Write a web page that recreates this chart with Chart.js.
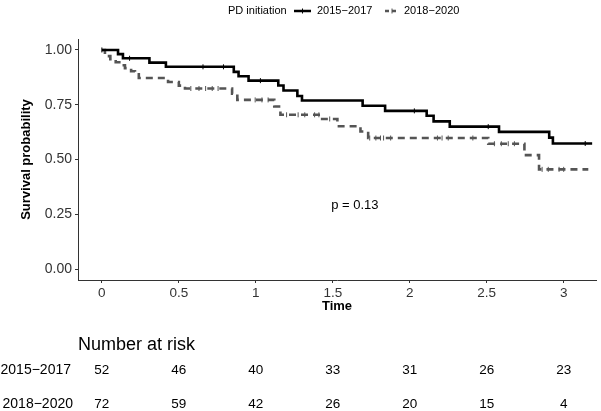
<!DOCTYPE html>
<html>
<head>
<meta charset="utf-8">
<script src="https://cdn.jsdelivr.net/npm/chart.js@4/dist/chart.umd.min.js"></script>
<style>
  body { margin: 0; background: #fff; }
  #km { display: block; }
</style>
</head>
<body>
<canvas id="km" width="601" height="411"></canvas>
<script>
// step curves (time, survival)
const timesA = [0, 0.105, 0.137, 0.309, 0.416, 0.857, 0.888, 0.953, 1.146, 1.18, 1.27, 1.30, 1.694, 1.84, 2.11, 2.155, 2.26, 2.58, 2.906, 2.93, 3.185];
const survA  = [1.0, 0.981, 0.962, 0.942, 0.923, 0.90, 0.88, 0.86, 0.838, 0.815, 0.79, 0.769, 0.745, 0.722, 0.70, 0.674, 0.65, 0.626, 0.60, 0.573, 0.573];

const timesB = [0, 0.02, 0.055, 0.09, 0.13, 0.15, 0.19, 0.215, 0.24, 0.43, 0.50, 0.54, 0.846, 0.88, 1.12, 1.16, 1.42, 1.53, 1.68, 1.73, 2.51, 2.745, 2.84, 3.16];
const survB  = [1.0, 0.972, 0.958, 0.944, 0.93, 0.917, 0.903, 0.889, 0.872, 0.854, 0.837, 0.824, 0.80, 0.772, 0.742, 0.704, 0.685, 0.652, 0.628, 0.598, 0.572, 0.52, 0.455, 0.455];

// censoring marks (times)
const censorA = [0, 0.18, 0.657, 0.79, 1.03, 2.03, 2.51, 3.14];
const censorB = [0.578, 0.631, 0.674, 0.717, 0.755, 0.996, 1.04, 1.08, 1.2, 1.275, 1.318, 1.382, 1.41, 1.48, 1.74, 1.78, 1.81, 1.83, 1.876, 2.18, 2.21, 2.25, 2.41, 2.55, 2.595, 2.64, 2.68, 2.86, 2.9, 2.97, 3.0];

const groupNames = ['2015\u22122017', '2018\u22122020'];
const xTicks = [0, 0.5, 1, 1.5, 2, 2.5, 3];
const yTicks = [0, 0.25, 0.5, 0.75, 1];
const riskA = [52, 46, 40, 33, 31, 26, 23];
const riskB = [72, 59, 42, 26, 20, 15, 4];
const pText = 'p = 0.13';

const FONT = "'Liberation Sans', Arial, Helvetica, sans-serif";

function stepPoints(ts, ss) {
    return ts.map((t, i) => ({ x: t, y: ss[i] }));
}

// survival value of a step curve at time t
function survAt(ts, ss, t) {
    let s = ss[0];
    for (let i = 0; i < ts.length; i++) {
        if (ts[i] <= t) s = ss[i];
    }
    return s;
}

function censorPoints(cs, ts, ss) {
    return cs.map(t => ({ x: t, y: survAt(ts, ss, t) }));
}

const extras = {
    id: 'extras',
    afterDraw(chart) {
        const ctx = chart.ctx;
        const xs = chart.scales.x;
        const ys = chart.scales.y;
        const area = chart.chartArea;
        ctx.save();
        ctx.fillStyle = '#000';
        ctx.textBaseline = 'middle';

        // legend
        ctx.font = '11px ' + FONT;
        ctx.textAlign = 'left';
        ctx.fillText('PD initiation', 228, 11);
        ctx.lineWidth = 2.5;
        ctx.strokeStyle = '#000';
        ctx.beginPath(); ctx.moveTo(294, 11); ctx.lineTo(311, 11); ctx.stroke();
        ctx.lineWidth = 1;
        ctx.beginPath(); ctx.moveTo(302.5, 8.5); ctx.lineTo(302.5, 13.5); ctx.stroke();
        ctx.fillText(groupNames[0], 317, 11);
        ctx.strokeStyle = '#555';
        ctx.lineWidth = 2.5;
        ctx.setLineDash([4, 3]);
        ctx.beginPath(); ctx.moveTo(385, 11); ctx.lineTo(399, 11); ctx.stroke();
        ctx.setLineDash([]);
        ctx.lineWidth = 1;
        ctx.beginPath(); ctx.moveTo(392, 8.5); ctx.lineTo(392, 13.5); ctx.stroke();
        ctx.fillText(groupNames[1], 404, 11);

        // p value
        ctx.font = '13px ' + FONT;
        ctx.fillText(pText, xs.getPixelForValue(1.49), ys.getPixelForValue(0.29));

        // axis titles
        ctx.font = 'bold 13px ' + FONT;
        ctx.textAlign = 'center';
        ctx.fillText('Time', (area.left + area.right) / 2, 306);
        ctx.save();
        ctx.translate(26, (area.top + area.bottom) / 2);
        ctx.rotate(-Math.PI / 2);
        ctx.fillText('Survival probability', 0, 0);
        ctx.restore();

        // risk table
        ctx.font = '18px ' + FONT;
        ctx.textAlign = 'left';
        ctx.fillText('Number at risk', 78, 345);
        ctx.font = '14px ' + FONT;
        ctx.textAlign = 'right';
        ctx.fillText(groupNames[0], 71, 370);
        ctx.fillText(groupNames[1], 73, 404);
        ctx.font = '13.5px ' + FONT;
        ctx.textAlign = 'center';
        xTicks.forEach((t, i) => {
            const px = xs.getPixelForValue(t);
            ctx.fillText(String(riskA[i]), px, 370);
            ctx.fillText(String(riskB[i]), px, 404);
        });
        ctx.restore();
    }
};

new Chart(document.getElementById('km'), {
    type: 'line',
    data: {
        datasets: [
            {
                label: groupNames[0],
                data: stepPoints(timesA, survA),
                borderColor: '#000',
                borderWidth: 2.6,
                stepped: 'before',
                pointRadius: 0,
                fill: false
            },
            {
                label: groupNames[1],
                data: stepPoints(timesB, survB),
                borderColor: '#555',
                borderWidth: 2.6,
                borderDash: [7, 5],
                stepped: 'before',
                pointRadius: 0,
                fill: false
            },
            {
                label: 'censorA',
                data: censorPoints(censorA, timesA, survA),
                showLine: false,
                pointStyle: 'line',
                rotation: 90,
                pointRadius: 2.5,
                borderColor: '#000',
                pointBorderWidth: 1
            },
            {
                label: 'censorB',
                data: censorPoints(censorB, timesB, survB),
                showLine: false,
                pointStyle: 'line',
                rotation: 90,
                pointRadius: 2.5,
                borderColor: '#555',
                pointBorderWidth: 1
            }
        ]
    },
    options: {
        responsive: false,
        animation: false,
        layout: { padding: { top: 39, right: 1, left: 0, bottom: 0 } },
        plugins: {
            legend: { display: false },
            tooltip: { enabled: false }
        },
        scales: {
            x: {
                type: 'linear',
                min: -0.155,
                max: 3.21,
                afterFit: (s) => { s.height = 131; },
                afterBuildTicks: (s) => { s.ticks = xTicks.map(v => ({ value: v })); },
                grid: { drawOnChartArea: false, drawTicks: true, tickLength: 3, color: '#333' },
                border: { display: true, color: '#333', width: 1 },
                ticks: {
                    color: '#333',
                    padding: 2,
                    maxRotation: 0,
                    font: { family: FONT, size: 13.5 },
                    callback: (v) => String(v)
                }
            },
            y: {
                type: 'linear',
                min: -0.05,
                max: 1.05,
                afterFit: (s) => { s.width = 78; },
                afterBuildTicks: (s) => { s.ticks = yTicks.map(v => ({ value: v })); },
                grid: { drawOnChartArea: false, drawTicks: true, tickLength: 3, color: '#333' },
                border: { display: true, color: '#333', width: 1 },
                ticks: {
                    color: '#333',
                    padding: 3,
                    font: { family: FONT, size: 14 },
                    callback: (v) => v.toFixed(2)
                }
            }
        }
    },
    plugins: [extras]
});
</script>
</body>
</html>
